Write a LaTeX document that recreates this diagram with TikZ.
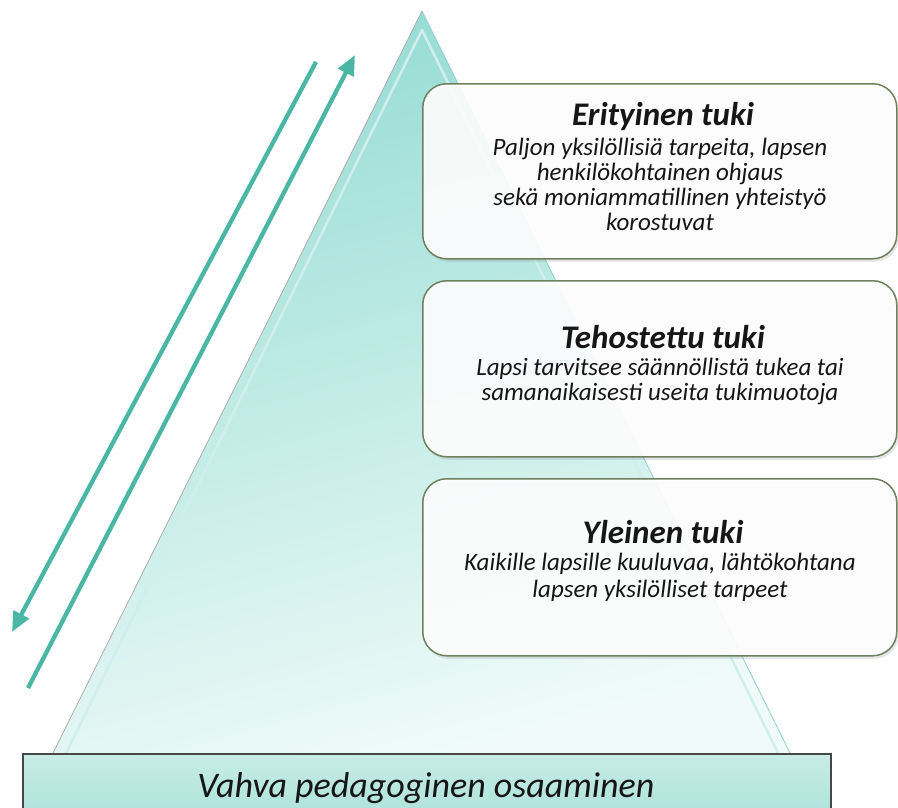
\documentclass[tikz,border=0pt]{standalone}
\usepackage{fontspec}
\setmainfont{Carlito}
\usetikzlibrary{arrows.meta,shadows}
\definecolor{arrowteal}{RGB}{74,182,164}
\definecolor{tritop}{RGB}{150,220,212}
\definecolor{tribot}{RGB}{240,251,249}
\definecolor{boxborder}{RGB}{110,128,92}
\definecolor{baseL}{RGB}{200,236,230}
\definecolor{baseR}{RGB}{165,224,216}
\definecolor{txt}{RGB}{22,22,22}
\tikzset{
  arr/.style={line width=4.3pt,color=arrowteal,-{Triangle[length=20pt,width=17pt]}},
  supportbox/.style={draw=boxborder,line width=1.5pt,rounded corners=24pt,
    fill=white,fill opacity=0.9,
    drop shadow={shadow xshift=2pt,shadow yshift=-3pt,opacity=0.2},
    anchor=north west,minimum width=474pt,inner sep=0pt},
  ttl/.style={anchor=base,text=txt,inner sep=0pt,font=\fontsize{33}{33}\selectfont\bfseries\itshape},
  bodyline/.style={anchor=base,text=txt,inner sep=0pt,font=\fontsize{25}{25}\selectfont\itshape},
}
\begin{document}
\begin{tikzpicture}[x=1pt,y=-1pt]
\useasboundingbox (0,0) rectangle (898,807);
% triangle
\coordinate (apex) at (422,11);
\coordinate (bl) at (53,753);
\coordinate (br) at (790,753);
\shade[top color=tritop,bottom color=tribot,shading angle=15] (apex) -- (br) -- (bl) -- cycle;
\coordinate (iapex) at (422,30);
\coordinate (ibl) at (66,753);
\coordinate (ibr) at (778,753);
\draw[white!55!tritop,line width=2.5pt,line join=round] (ibl) -- (iapex) -- (ibr);
\draw[gray!65,line width=0.8pt] (apex) -- (bl);
\draw[tritop!85!gray,line width=0.8pt] (apex) -- (br);
% base
\node[draw=black!72,line width=1.8pt,top color=baseL,bottom color=baseR,
  minimum width=808pt,minimum height=80pt,anchor=north west,inner sep=0pt] (base) at (22,753) {};
\node[text=txt,anchor=base,inner sep=0pt,font=\fontsize{36}{36}\selectfont\itshape] (basetxt) at (426,797) {Vahva pedagoginen osaaminen};
% arrows
\coordinate (a1s) at (316,62);
\coordinate (a1e) at (12,632);
\coordinate (a2s) at (28,688);
\coordinate (a2e) at (355,55);
\draw[arr] (a1s) -- (a1e);
\draw[arr] (a2s) -- (a2e);
% boxes
\node[supportbox,minimum height=175pt] (b1) at (422,83) {};
\node[supportbox,minimum height=176pt] (b2) at (422,280) {};
\node[supportbox,minimum height=177pt] (b3) at (422,478) {};
% box 1 text
\node[ttl] (t1) at (663,125) {Erityinen tuki};
\node[bodyline] (l11) at (660,155) {Paljon yksilöllisiä tarpeita, lapsen};
\node[bodyline] (l12) at (660,180) {henkilökohtainen ohjaus};
\node[bodyline] (l13) at (660,205) {sekä moniammatillinen yhteistyö};
\node[bodyline] (l14) at (660,230) {korostuvat};
% box 2 text
\node[ttl] (t2) at (663,348) {Tehostettu tuki};
\node[bodyline] (l21) at (660,375) {Lapsi tarvitsee säännöllistä tukea tai};
\node[bodyline] (l22) at (660,400) {samanaikaisesti useita tukimuotoja};
% box 3 text
\node[ttl] (t3) at (663,543) {Yleinen tuki};
\node[bodyline] (l31) at (660,570) {Kaikille lapsille kuuluvaa, lähtökohtana};
\node[bodyline] (l32) at (660,597) {lapsen yksilölliset tarpeet};
\end{tikzpicture}
\end{document}
